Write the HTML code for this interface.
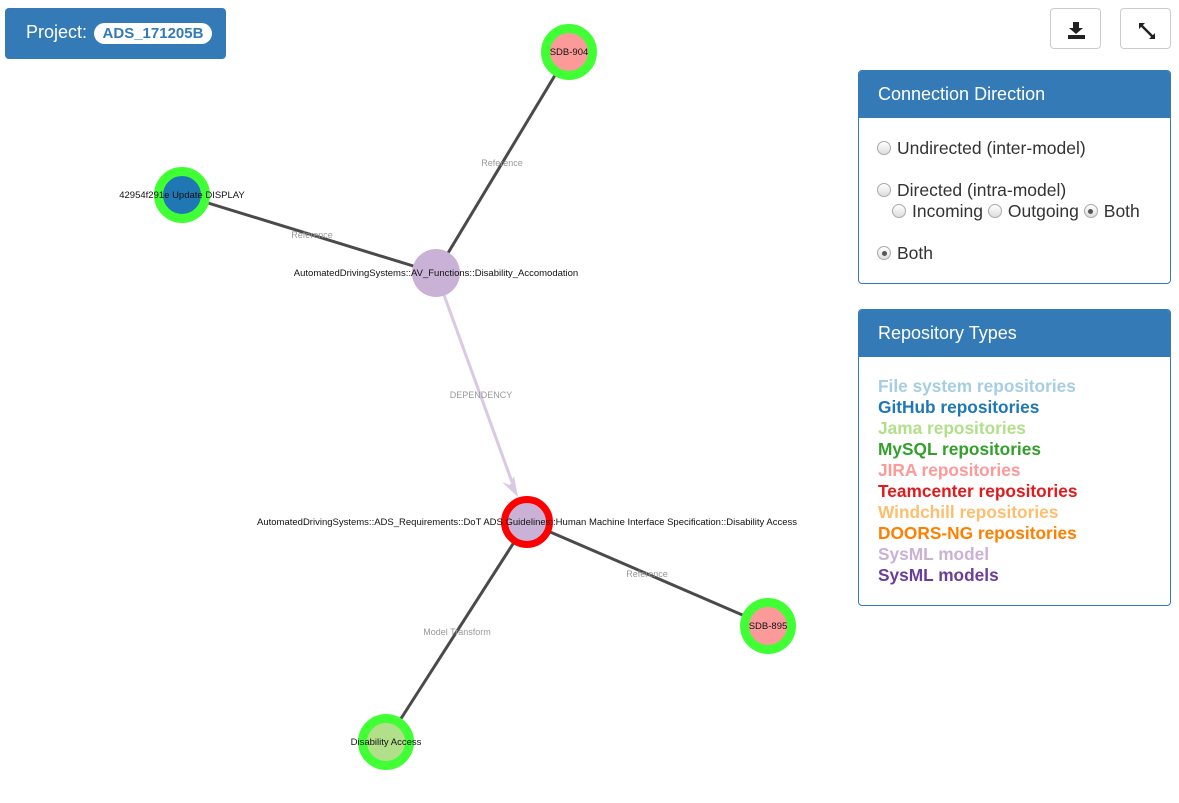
<!DOCTYPE html>
<html><head><meta charset="utf-8"><style>
body{margin:0;width:1179px;height:803px;background:#fff;font-family:"Liberation Sans",sans-serif;position:relative;overflow:hidden}
.proj{position:absolute;left:5px;top:8px;width:221px;height:51px;background:#337ab7;border-radius:4px;color:#fff;font-size:18px}
.proj span.l{position:absolute;left:21px;top:14px}
.proj span.b{position:absolute;left:89px;top:15px;width:118px;height:21px;background:#fff;color:#337ab7;border-radius:11px;font-weight:bold;font-size:15px;text-align:center;line-height:21px}
.btn{position:absolute;top:8px;width:51px;height:41px;border:1px solid #ccc;border-radius:4px;background:#fff;box-sizing:border-box}
.panel{position:absolute;left:858px;width:313px;border:1px solid #337ab7;border-radius:4px;box-sizing:border-box;overflow:hidden}
.ph{background:#337ab7;color:#fff;font-size:18px;padding:0 19px;height:47px;line-height:47px}
.r{position:absolute;font-size:17.5px;color:#333}
.rad{display:inline-block;width:14px;height:14px;border-radius:50%;border:1px solid #aaa;background:linear-gradient(#fff,#ddd);box-sizing:border-box;vertical-align:-1px;margin-right:6px;position:relative}
.rad.on::after{content:"";position:absolute;left:3.5px;top:3.5px;width:5px;height:5px;border-radius:50%;background:#555}
.leg div{font-weight:bold;font-size:17.3px;line-height:21px}
</style></head><body>
<svg width="1179" height="803" style="position:absolute;left:0;top:0" font-family="Liberation Sans, sans-serif">
<g stroke="#4a4a4a" stroke-width="3">
<line x1="569" y1="52" x2="436" y2="273"/>
<line x1="182" y1="195" x2="436" y2="273"/>
<line x1="527" y1="522" x2="768" y2="626"/>
<line x1="527" y1="522" x2="386" y2="742"/>
</g>
<line x1="436" y1="273" x2="512" y2="482" stroke="#d9c9e3" stroke-width="3"/>
<polygon points="518,497 502,482 510,485 514,476" fill="#d9c9e3"/>
<g font-size="9" fill="#999" text-anchor="middle">
<text x="502" y="166">Reference</text>
<text x="312" y="238">Reference</text>
<text x="481" y="398">DEPENDENCY</text>
<text x="647" y="577">Reference</text>
<text x="457" y="635">Model Transform</text>
</g>
<circle cx="569" cy="52" r="23.5" fill="#fb9a99" stroke="#40ff34" stroke-width="9"/>
<circle cx="182" cy="195" r="23.5" fill="#1f78b4" stroke="#40ff34" stroke-width="9"/>
<circle cx="436" cy="273" r="24" fill="#cab2d6"/>
<circle cx="527" cy="522" r="22.5" fill="#cab2d6" stroke="#ff0000" stroke-width="7"/>
<circle cx="768" cy="626" r="23.5" fill="#fb9a99" stroke="#40ff34" stroke-width="9"/>
<circle cx="386" cy="742" r="23.5" fill="#b2df8a" stroke="#40ff34" stroke-width="9"/>
<g font-size="9.5" fill="#111" text-anchor="middle">
<text x="569" y="55">SDB-904</text>
<text x="182" y="198">42954f291e Update DISPLAY</text>
<text x="436" y="276">AutomatedDrivingSystems::AV_Functions::Disability_Accomodation</text>
<text x="527" y="525">AutomatedDrivingSystems::ADS_Requirements::DoT ADS Guidelines::Human Machine Interface Specification::Disability Access</text>
<text x="768" y="629">SDB-895</text>
<text x="386" y="745">Disability Access</text>
</g>
</svg>
<div class="proj"><span class="l">Project:</span><span class="b">ADS_171205B</span></div>
<div class="btn" style="left:1050px"><svg width="51" height="41"><path d="M22 13h6v6h4l-7 6-7-6h4z" fill="#222"/><rect x="17" y="26" width="17" height="4" fill="#222"/></svg></div>
<div class="btn" style="left:1120px"><svg width="51" height="41"><path d="M20 16l12 12" stroke="#222" stroke-width="2.5"/><path d="M18 14h6l-6 6z M34 30h-6l6-6z" fill="#222"/></svg></div>
<div class="panel" style="top:70px;height:214px"><div class="ph">Connection Direction</div>
<div class="r" style="left:18px;top:67px"><span class="rad"></span>Undirected (inter-model)</div>
<div class="r" style="left:18px;top:109px"><span class="rad"></span>Directed (intra-model)</div>
<div class="r" style="left:33px;top:130px"><span class="rad"></span>Incoming <span class="rad"></span>Outgoing <span class="rad on"></span>Both</div>
<div class="r" style="left:18px;top:172px"><span class="rad on"></span>Both</div>
</div>
<div class="panel" style="top:309px;height:297px"><div class="ph">Repository Types</div>
<div class="leg" style="position:absolute;left:19px;top:66px">
<div style="color:#a6cee3">File system repositories</div>
<div style="color:#1f78b4">GitHub repositories</div>
<div style="color:#b2df8a">Jama repositories</div>
<div style="color:#33a02c">MySQL repositories</div>
<div style="color:#fb9a99">JIRA repositories</div>
<div style="color:#e31a1c">Teamcenter repositories</div>
<div style="color:#fdbf6f">Windchill repositories</div>
<div style="color:#ff7f00">DOORS-NG repositories</div>
<div style="color:#cab2d6">SysML model</div>
<div style="color:#6a3d9a">SysML models</div>
</div></div>
</body></html>
